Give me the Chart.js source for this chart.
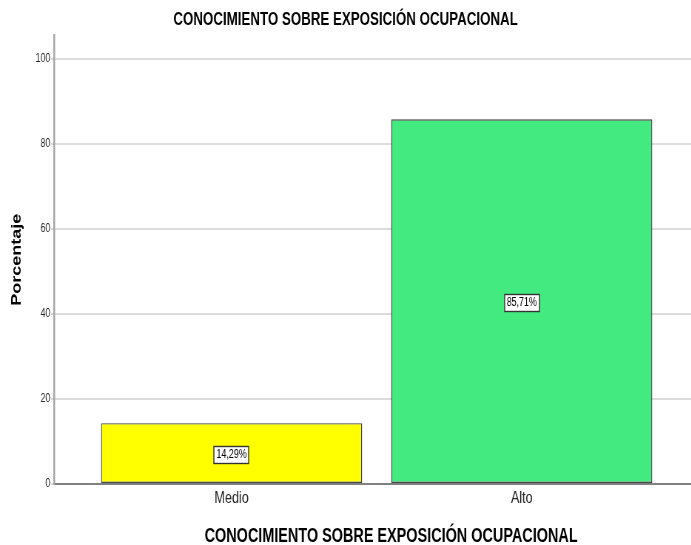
<!DOCTYPE html>
<html>
<head>
<meta charset="utf-8">
<script src="https://cdn.jsdelivr.net/npm/chart.js@4"></script>
<style>
  body { margin: 0; background: #fff; }
  /* la imagen original está comprimida en horizontal: se dibuja más ancho y se estrecha */
  #marco { width: 691px; height: 545px; overflow: hidden; }
  #grafico { transform: scaleX(0.74); transform-origin: 0 0; }
</style>
</head>
<body>
<div id="marco"><canvas id="grafico" width="934" height="545"></canvas></div>
<script>
const categorias = ['Medio', 'Alto'];
const porcentajes = [14.29, 85.71];
const etiquetas = ['14,29%', '85,71%'];
const colores = ['#ffff00', '#42ea80'];
const ticksY = [0, 20, 40, 60, 80, 100];
const tituloEjeX = 'CONOCIMIENTO SOBRE EXPOSICIÓN OCUPACIONAL';

const fuente = "'Liberation Sans', Arial, sans-serif";

// caja blanca con el porcentaje en el centro de cada barra
const etiquetasBarras = {
  id: 'etiquetasBarras',
  afterDatasetsDraw(chart) {
    const ctx = chart.ctx;
    const meta = chart.getDatasetMeta(0);
    ctx.save();
    ctx.font = '12px ' + fuente;
    ctx.textAlign = 'center';
    ctx.textBaseline = 'middle';
    meta.data.forEach((bar, i) => {
      const txt = etiquetas[i];
      const cx = bar.x;
      const cy = (bar.y + bar.base) / 2 + 1;
      const w = Math.round(ctx.measureText(txt).width + 6);
      const h = 17;
      const x0 = Math.round(cx - w / 2), y0 = Math.round(cy - h / 2);
      ctx.fillStyle = '#fff';
      ctx.fillRect(x0, y0, w, h);
      ctx.strokeStyle = '#333';
      ctx.lineWidth = 1.4;
      ctx.strokeRect(x0, y0 + 0.5, w, h);
      ctx.fillStyle = '#000';
      ctx.fillText(txt, cx, cy + 1);
    });
    ctx.restore();
  }
};

// título del eje X, algo desplazado a la derecha como en SPSS
const tituloX = {
  id: 'tituloX',
  afterDraw(chart) {
    const ctx = chart.ctx;
    const area = chart.chartArea;
    ctx.save();
    ctx.font = 'bold 19.5px ' + fuente;
    ctx.fillStyle = '#000';
    ctx.textAlign = 'center';
    ctx.textBaseline = 'middle';
    ctx.fillText(tituloEjeX, area.left + (area.right - area.left) * 0.529, chart.height - 8);
    ctx.restore();
  }
};

const ctx = document.getElementById('grafico').getContext('2d');
const grafico = new Chart(ctx, {
  type: 'bar',
  data: {
    datasets: [{
      label: 'Porcentaje',
      data: categorias.map((c, i) => ({ x: i, y: porcentajes[i] })),
      backgroundColor: colores,
      borderColor: '#444',
      borderWidth: 1.4,
      borderSkipped: false,
      categoryPercentage: 1,
      barPercentage: 0.9
    }]
  },
  options: {
    responsive: false,
    animation: false,
    layout: { padding: 0 },
    plugins: {
      legend: { display: false },
      tooltip: { enabled: false },
      title: {
        display: true,
        text: 'CONOCIMIENTO SOBRE EXPOSICIÓN OCUPACIONAL',
        color: '#000',
        font: { family: fuente, size: 18, weight: 'bold', lineHeight: 1.2 },
        padding: { top: 9, bottom: 5 }
      }
    },
    scales: {
      x: {
        type: 'linear',
        offset: false,
        min: -0.612,
        max: 1.584,
        afterBuildTicks: s => { s.ticks = categorias.map((c, i) => ({ value: i })); },
        afterFit: s => { s.height = 61; },
        grid: { display: false, drawTicks: false, offset: false },
        border: { display: true, color: '#808080', width: 2 },
        ticks: {
          callback: v => categorias[v],
          color: '#222',
          padding: 4,
          maxRotation: 0,
          autoSkip: false,
          font: { family: fuente, size: 17 }
        }
      },
      y: {
        min: 0,
        max: 105.4,
        afterBuildTicks: s => { s.ticks = ticksY.map(v => ({ value: v })); },
        afterFit: s => { s.width = 73; },
        grid: { color: '#dcdcdc', lineWidth: 2, tickLength: 4, tickColor: '#b0b0b0', tickWidth: 1 },
        border: { display: true, color: '#a6a6a6', width: 2.5 },
        ticks: {
          color: '#222',
          padding: 1,
          font: { family: fuente, size: 12 }
        },
        title: {
          display: true,
          text: 'Porcentaje',
          color: '#000',
          font: { family: fuente, size: 18, weight: 'bold', lineHeight: 1.2 },
          padding: { top: 12, bottom: 0 }
        }
      }
    }
  },
  plugins: [etiquetasBarras, tituloX]
});
</script>
</body>
</html>
